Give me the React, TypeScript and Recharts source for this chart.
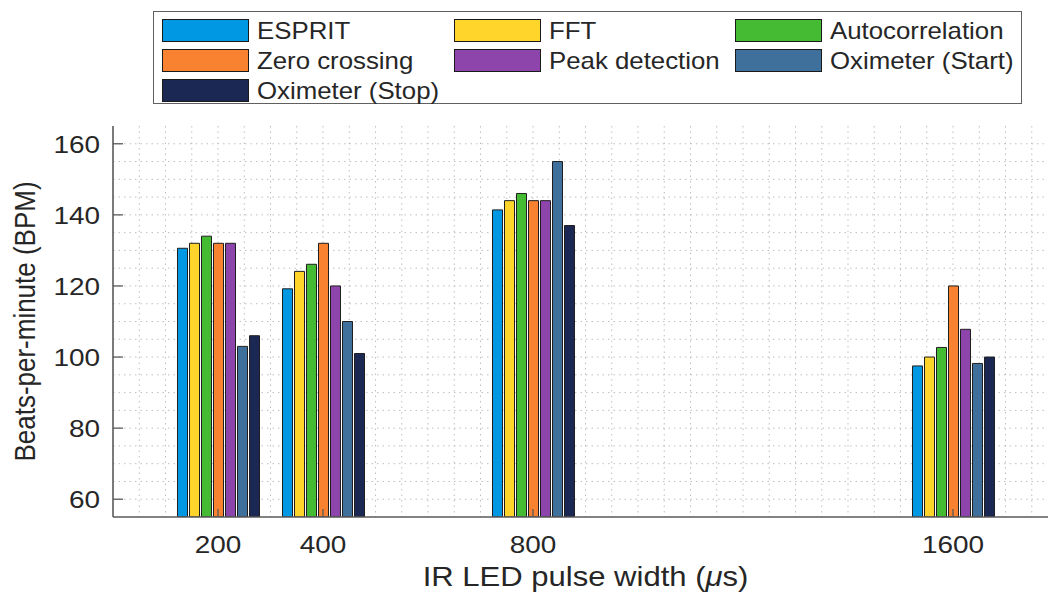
import React from 'react';
import { BarChart, Bar, XAxis, YAxis, CartesianGrid, Label } from 'recharts';

// ---- data ----
const pulseWidths = [200, 400, 800, 1600];
const espritBpm = [130.6, 119.2, 141.4, 97.5];
const fftBpm = [132, 124.1, 144, 100];
const autocorrBpm = [134, 126.1, 146, 102.7];
const zeroCrossBpm = [132, 132, 144, 120];
const peakBpm = [132, 120, 144, 107.8];
const oxStartBpm = [103, 110, 155, 98.2];
const oxStopBpm = [106, 101, 137, 100];

const seriesNames = [
  'ESPRIT',
  'FFT',
  'Autocorrelation',
  'Zero crossing',
  'Peak detection',
  'Oximeter (Start)',
  'Oximeter (Stop)',
];
const seriesKeys = ['esprit', 'fft', 'autocorr', 'zero', 'peak', 'oxStart', 'oxStop'];
const seriesValues = [espritBpm, fftBpm, autocorrBpm, zeroCrossBpm, peakBpm, oxStartBpm, oxStopBpm];
const seriesColors = ['#0098e3', '#ffd52b', '#44bb33', '#f8822f', '#8d44ab', '#3f6f9b', '#1b2853'];

const yTicks = [60, 80, 100, 120, 140, 160];
const yDomain = [55, 165];
const xDomain = [0, 1800];
const yMinorStep = 5;
const xMinorStep = 50;

const xLabel = 'IR LED pulse width (';
const yLabel = 'Beats-per-minute (BPM)';

const data = pulseWidths.map((x, i) => {
  const row: Record<string, number> = { x };
  seriesKeys.forEach((k, s) => {
    row[k] = seriesValues[s][i];
  });
  return row;
});

function gridValues(lo: number, hi: number, step: number) {
  const out: number[] = [];
  for (let v = Math.ceil(lo / step) * step; v <= hi; v += step) {
    if (v > lo && v < hi) out.push(v);
  }
  return out;
}

// ---- styles ----
// the reference picture is stretched horizontally (~1.15x), so text is widened in x
const FONT = '"Liberation Sans", Arial, Helvetica, sans-serif';
const AX = '#5a5a5a';
const TXT = '#262626';
const SX = 1.15;
const TICK_FS = 24.5;
const TICK_SX = 1.14;
const XLABEL_FS = 27;
const YLABEL_FS = 26;
const LEGEND_FS = 24;
const LEGEND_SX = 1.075;

const BottomTick = (props: any) => {
  const { x, y, payload } = props;
  return (
    <g>
      <line x1={x} y1={y} x2={x} y2={y - 8} stroke={AX} strokeWidth={1.3} />
      <text
        transform={`translate(${x}, ${y + 35.5}) scale(${TICK_SX}, 1)`}
        textAnchor="middle"
        fontSize={TICK_FS}
        fill={TXT}
        fontFamily={FONT}
      >
        {payload.value}
      </text>
    </g>
  );
};

const TopTick = (props: any) => {
  const { x, y } = props;
  return <line x1={x} y1={y} x2={x} y2={y + 8} stroke={AX} strokeWidth={1.3} />;
};

const LeftTick = (props: any) => {
  const { x, y, payload } = props;
  return (
    <g>
      <line x1={x} y1={y} x2={x + 10} y2={y} stroke={AX} strokeWidth={1.3} />
      <text
        transform={`translate(${x - 13}, ${y + 8.8}) scale(${TICK_SX}, 1)`}
        textAnchor="end"
        fontSize={TICK_FS}
        fill={TXT}
        fontFamily={FONT}
      >
        {payload.value}
      </text>
    </g>
  );
};

const renderYLabel = (props: any) => {
  const vb = props.viewBox || {};
  const cx = vb.x + 12;
  const cy = vb.y + vb.height / 2;
  return (
    <text
      transform={`translate(${cx}, ${cy}) scale(${SX}, 1) rotate(-90)`}
      textAnchor="middle"
      dominantBaseline="central"
      fontSize={YLABEL_FS}
      fill={TXT}
      fontFamily={FONT}
    >
      {yLabel}
    </text>
  );
};

const renderXLabel = (props: any) => {
  const vb = props.viewBox || {};
  const cx = vb.x + vb.width / 2;
  const by = vb.y + 69;
  return (
    <text
      transform={`translate(${cx}, ${by}) scale(${SX}, 1)`}
      textAnchor="middle"
      fontSize={XLABEL_FS}
      fill={TXT}
      fontFamily={FONT}
    >
      {xLabel}
      <tspan fontStyle="italic">μ</tspan>
      s)
    </text>
  );
};

const legendCols = [160.5, 452.5, 733.5];
const legendRows = [17.5, 47.5, 77.5];

const LegendBox = () => (
  <div
    style={{
      position: 'absolute',
      left: 153,
      top: 11,
      width: 869,
      height: 93,
      border: '1.3px solid #606060',
      background: '#fff',
      boxSizing: 'border-box',
    }}
  >
    {seriesNames.map((name, i) => {
      const col = i % 3;
      const row = Math.floor(i / 3);
      const left = legendCols[col] - 153;
      const top = legendRows[row] - 11;
      return (
        <div key={name} style={{ position: 'absolute', left, top, height: 23, display: 'flex', alignItems: 'center' }}>
          <div
            style={{
              width: 87,
              height: 23,
              boxSizing: 'border-box',
              background: seriesColors[i],
              border: '1.2px solid #1a1a1a',
              flex: '0 0 auto',
            }}
          />
          <span
            style={{
              marginLeft: 8,
              fontFamily: FONT,
              fontSize: LEGEND_FS,
              color: TXT,
              whiteSpace: 'nowrap',
              lineHeight: '23px',
              display: 'inline-block',
              transform: `scaleX(${LEGEND_SX})`,
              transformOrigin: 'left center',
            }}
          >
            {name}
          </span>
        </div>
      );
    })}
  </div>
);

export default function App() {
  const yGrid = gridValues(yDomain[0], yDomain[1], yMinorStep);
  const xGrid = gridValues(xDomain[0], xDomain[1], xMinorStep);

  const hGen = (p: any) => {
    const ax = p && p.yAxis;
    if (ax && typeof ax.scale === 'function') return yGrid.map((v) => ax.scale(v));
    const o = p.offset;
    return yGrid.map((v) => o.top + (o.height * (yDomain[1] - v)) / (yDomain[1] - yDomain[0]));
  };
  const vGen = (p: any) => {
    const ax = p && p.xAxis;
    if (ax && typeof ax.scale === 'function') return xGrid.map((v) => ax.scale(v));
    const o = p.offset;
    return xGrid.map((v) => o.left + (o.width * (v - xDomain[0])) / (xDomain[1] - xDomain[0]));
  };

  return (
    <div
      style={{
        position: 'absolute',
        left: 0,
        top: 0,
        width: 1048,
        height: 592,
        overflow: 'hidden',
        background: '#fff',
        fontFamily: FONT,
      }}
    >
      <BarChart
        width={1100}
        height={592}
        data={data}
        margin={{ top: 126, right: 42, bottom: 0, left: 13 }}
        barSize={10}
        barGap={2}
      >
        <CartesianGrid
          xAxisId="b"
          yAxisId="l"
          stroke="#bfbfbf"
          strokeWidth={1}
          strokeDasharray="1.5 4"
          horizontalCoordinatesGenerator={hGen}
          verticalCoordinatesGenerator={vGen}
        />
        <XAxis
          xAxisId="b"
          dataKey="x"
          type="number"
          domain={xDomain}
          ticks={pulseWidths}
          interval={0}
          allowDataOverflow
          height={75}
          tickSize={0}
          tickMargin={0}
          tickLine={false}
          axisLine={{ stroke: AX, strokeWidth: 1.6 }}
          tick={<BottomTick />}
        >
          <Label content={renderXLabel} />
        </XAxis>
        <XAxis
          xAxisId="t"
          orientation="top"
          dataKey="x"
          type="number"
          domain={xDomain}
          ticks={pulseWidths}
          interval={0}
          allowDataOverflow
          height={0}
          tickSize={0}
          tickMargin={0}
          tickLine={false}
          axisLine={{ stroke: AX, strokeWidth: 1.6 }}
          tick={<TopTick />}
        />
        <YAxis
          yAxisId="l"
          type="number"
          domain={yDomain}
          ticks={yTicks}
          interval={0}
          allowDataOverflow
          width={100}
          tickSize={0}
          tickMargin={0}
          tickLine={false}
          axisLine={{ stroke: AX, strokeWidth: 1.6 }}
          tick={<LeftTick />}
        >
          <Label content={renderYLabel} />
        </YAxis>
        {seriesKeys.map((k, i) => (
          <Bar
            key={k}
            dataKey={k}
            name={seriesNames[i]}
            xAxisId="b"
            yAxisId="l"
            fill={seriesColors[i]}
            stroke="#1f1f1f"
            strokeWidth={1}
            isAnimationActive={false}
          />
        ))}
      </BarChart>
      <LegendBox />
    </div>
  );
}
